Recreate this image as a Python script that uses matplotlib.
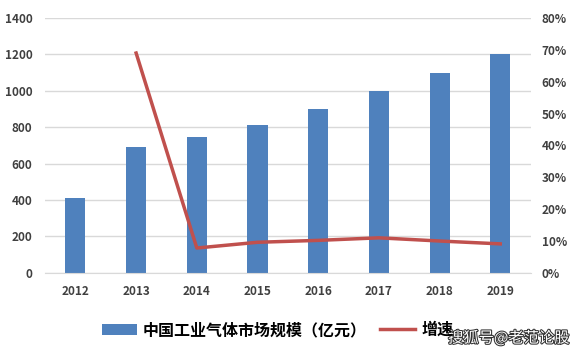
import matplotlib
matplotlib.use("Agg")
import matplotlib.pyplot as plt
import matplotlib.patheffects as pe
from matplotlib.ticker import FuncFormatter

plt.rcParams['font.family'] = ['Noto Sans CJK SC', 'DejaVu Sans']

years = ['2012', '2013', '2014', '2015', '2016', '2017', '2018', '2019']
market = [410, 690, 745, 815, 900, 1000, 1100, 1200]
growth = [None, 69, 7.8, 9.6, 10.2, 11.0, 10.0, 9.1]

bar_label = '中国工业气体市场规模（亿元）'
line_label = '增速'

fig = plt.figure(figsize=(5.78, 3.53), dpi=100)
ax = fig.add_axes([0.078, 0.227, 0.84, 0.722])
x = list(range(len(years)))
b = ax.bar(x, market, width=0.33, color='#4F81BD', label=bar_label, zorder=2)
ax.set_ylim(0, 1400)
ax.set_yticks(range(0, 1401, 200))
ax.set_xlim(-0.5, len(years) - 0.5)
ax.set_xticks(x)
ax.set_xticklabels(years)
ax.grid(axis='y', color='#d9d9d9', linewidth=1, zorder=0)
for s in ['top', 'right', 'left']:
    ax.spines[s].set_visible(False)
ax.spines['bottom'].set_color('#d9d9d9')
ax.tick_params(length=0, labelsize=8.5, pad=9)
for lbl in ax.get_xticklabels() + ax.get_yticklabels():
    lbl.set_fontweight('bold')
    lbl.set_color('#404040')

ax2 = ax.twinx()
gx = [i for i, g in zip(x, growth) if g is not None]
gy = [g for g in growth if g is not None]
l, = ax2.plot(gx, gy, color='#C0504D', linewidth=2.5, label=line_label, zorder=3)
ax2.set_ylim(0, 80)
ax2.set_yticks(range(0, 81, 10))
ax2.yaxis.set_major_formatter(FuncFormatter(lambda v, p: f'{int(v)}%'))
for s in ['top', 'right', 'left', 'bottom']:
    ax2.spines[s].set_visible(False)
ax2.tick_params(length=0, labelsize=8.5, pad=8)
for lbl in ax2.get_yticklabels():
    lbl.set_fontweight('bold')
    lbl.set_color('#404040')

leg = fig.legend([b, l], [bar_label, line_label], loc='center', bbox_to_anchor=(0.48, 0.065),
                 ncol=2, frameon=False, prop={'size': 11.5, 'weight': 'bold'},
                 handlelength=2.2, columnspacing=0.8, handletextpad=0.4)

fig.text(0.985, 0.018, '搜狐号@老范论股', ha='right', va='bottom', fontsize=11,
         color='white', path_effects=[pe.withStroke(linewidth=1.5, foreground='#333333')])

fig.savefig('out.png', dpi=100)
